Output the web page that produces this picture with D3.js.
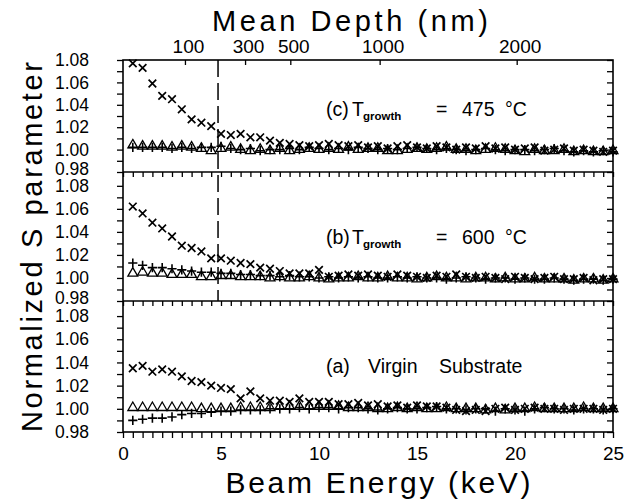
<!DOCTYPE html>
<html>
<head>
<meta charset="utf-8">
<script src="https://cdn.jsdelivr.net/npm/d3@7"></script>
<style>
  body { margin: 0; background: #fff; }
  text { fill: #000; }
</style>
</head>
<body>
<div id="chart"></div>
<script>
// beam energies (keV)
const energy = [0.5, 1.0, 1.5, 2.0, 2.5, 3.0, 3.5, 4.0, 4.5, 5.0,
  5.5, 6.0, 6.5, 7.0, 7.5, 8.0, 8.5, 9.0, 9.5, 10.0,
  10.5, 11.0, 11.5, 12.0, 12.5, 13.0, 13.5, 14.0, 14.5, 15.0,
  15.5, 16.0, 16.5, 17.0, 17.5, 18.0, 18.5, 19.0, 19.5, 20.0,
  20.5, 21.0, 21.5, 22.0, 22.5, 23.0, 23.5, 24.0, 24.5, 25.0];

// (c) T growth = 475 C
const crossC = [1.077, 1.073, 1.059, 1.048, 1.045, 1.036, 1.027, 1.024, 1.021, 1.014,
  1.013, 1.014, 1.011, 1.011, 1.008, 1.006, 1.005, 1.004, 1.003, 1.004,
  1.005, 1.004, 1.003, 1.004, 1.002, 1.003, 1.001, 1.003, 1.004, 1.002,
  1.001, 1.003, 1.002, 1.000, 1.002, 1.001, 1.003, 1.001, 1.002, 1.000,
  1.001, 1.002, 0.999, 1.000, 1.001, 0.999, 1.000, 0.999, 0.998, 0.999];
const plusC = [1.002, 1.002, 1.002, 1.002, 1.001, 1.002, 1.001, 1.002, 1.002, 1.003,
  1.001, 1.000, 1.001, 0.999, 1.000, 1.000, 1.001, 1.000, 1.002, 1.001,
  1.000, 1.001, 1.000, 1.002, 1.001, 1.000, 1.001, 1.000, 1.001, 1.002,
  1.001, 1.000, 1.001, 1.000, 0.999, 1.000, 1.001, 1.000, 0.999, 1.000,
  1.000, 0.999, 1.000, 1.001, 0.999, 0.998, 0.999, 0.998, 0.999, 0.998];
const triC = [1.004, 1.003, 1.003, 1.003, 1.002, 1.003, 1.002, 1.001, 0.999, 1.001,
  1.002, 1.000, 0.999, 1.000, 0.999, 1.001, 0.999, 1.000, 1.001, 1.000,
  1.001, 1.000, 1.002, 1.000, 1.001, 1.001, 0.999, 0.999, 1.000, 1.001,
  1.000, 1.001, 1.002, 1.000, 1.000, 0.999, 1.000, 1.001, 1.000, 0.999,
  0.998, 1.000, 0.999, 0.999, 1.000, 0.998, 0.999, 0.998, 0.998, 0.999];

// (b) T growth = 600 C
const crossB = [1.062, 1.056, 1.048, 1.043, 1.036, 1.028, 1.026, 1.023, 1.017, 1.017,
  1.015, 1.013, 1.012, 1.009, 1.008, 1.006, 1.004, 1.004, 1.004, 1.007,
  1.001, 1.002, 1.003, 1.002, 1.003, 1.002, 1.001, 1.003, 1.002, 1.001,
  1.000, 1.002, 1.001, 1.003, 1.001, 1.000, 1.001, 1.000, 0.999, 1.001,
  1.000, 0.999, 1.000, 1.001, 0.999, 0.999, 1.000, 0.998, 0.999, 0.999];
const plusB = [1.013, 1.011, 1.009, 1.009, 1.008, 1.007, 1.006, 1.005, 1.005, 1.004,
  1.004, 1.003, 1.003, 1.002, 1.002, 1.001, 1.002, 1.001, 1.001, 1.000,
  1.001, 1.000, 1.001, 1.000, 1.001, 1.000, 1.000, 1.001, 1.000, 1.001,
  1.000, 1.000, 0.999, 1.000, 1.001, 1.000, 0.999, 1.000, 1.000, 0.999,
  1.000, 0.999, 0.999, 1.000, 0.999, 0.998, 0.999, 0.999, 0.998, 0.999];
const triB = [1.004, 1.005, 1.004, 1.004, 1.003, 1.003, 1.003, 1.001, 1.001, 1.002,
  1.002, 1.001, 1.001, 1.001, 1.000, 1.001, 1.000, 1.000, 1.001, 1.000,
  0.999, 1.000, 1.000, 1.001, 1.000, 1.000, 1.001, 1.000, 1.000, 0.999,
  1.000, 1.001, 1.000, 1.000, 0.999, 1.000, 1.000, 0.999, 1.000, 0.999,
  0.999, 1.000, 0.999, 0.999, 0.999, 0.998, 0.999, 0.999, 0.998, 0.999];

// (a) virgin substrate
const crossA = [1.035, 1.037, 1.032, 1.034, 1.032, 1.028, 1.024, 1.023, 1.020, 1.018,
  1.017, 1.009, 1.015, 1.009, 1.007, 1.007, 1.006, 1.009, 1.006, 1.006,
  1.006, 1.004, 1.004, 1.005, 1.003, 1.004, 1.002, 1.003, 1.001, 1.003,
  1.002, 1.002, 1.001, 0.999, 0.998, 0.999, 0.998, 1.000, 1.001, 0.999,
  1.000, 1.001, 1.000, 1.000, 0.999, 1.000, 1.000, 1.000, 0.999, 1.000];
const plusA = [0.990, 0.991, 0.992, 0.992, 0.993, 0.995, 0.996, 0.996, 0.997, 0.998,
  0.998, 0.999, 0.999, 0.999, 1.000, 1.000, 1.000, 1.001, 1.000, 1.001,
  1.001, 1.000, 1.001, 1.001, 1.000, 0.999, 1.000, 1.001, 1.000, 1.000,
  1.001, 1.002, 1.000, 1.000, 0.999, 1.000, 1.000, 0.998, 1.000, 0.999,
  0.998, 1.000, 1.001, 1.000, 1.000, 0.999, 1.000, 1.000, 0.999, 1.000];
const triA = [1.001, 1.001, 1.001, 1.001, 1.001, 1.001, 1.001, 1.000, 1.000, 1.000,
  1.000, 1.001, 1.001, 1.001, 1.001, 1.002, 1.002, 1.002, 1.002, 1.002,
  1.002, 1.002, 1.001, 1.001, 1.001, 1.000, 1.000, 1.001, 1.000, 1.001,
  1.000, 1.000, 1.001, 1.000, 1.000, 1.000, 0.999, 1.000, 0.999, 1.000,
  1.000, 1.001, 1.000, 1.000, 1.000, 1.000, 1.001, 1.000, 1.000, 1.000];

// tick labels
const energyTicks = [0, 5, 10, 15, 20, 25];
const depthTicks = [100, 300, 500, 1000, 2000];
const sTicks = [0.98, 0.99, 1.00, 1.01, 1.02, 1.03, 1.04, 1.05, 1.06, 1.07, 1.08];
const layerDepth = 200; // nm, dashed line

const font = "'Liberation Sans', Arial, sans-serif";
const width = 632, height = 504;
const left = 123, right = 613, plotTop = 60, plotBottom = 432;

const svg = d3.select("#chart")
  .append("svg")
    .attr("width", width)
    .attr("height", height);

const x = d3.scaleLinear().domain([0, 25]).range([left, right]);

// mean depth (nm) -> beam energy (keV)
const depthToEnergy = z => Math.pow(z / 15.5, 1 / 1.62);

const panels = [
  { top: 60,  bottom: 172, yMax: 1.08,  cross: crossC, plus: plusC, tri: triC, ticksOnTop: false },
  { top: 172, bottom: 301, yMax: 1.092, cross: crossB, plus: plusB, tri: triB, ticksOnTop: true },
  { top: 301, bottom: 432, yMax: 1.093, cross: crossA, plus: plusA, tri: triA, ticksOnTop: true }
];

const minorEnergy = d3.range(0, 25.001, 0.5);

const crossPath = "M-3.8,-3.8L3.8,3.8M-3.8,3.8L3.8,-3.8";
const plusPath = "M-4.6,0H4.6M0,-4.6V4.6";
const triPath = d3.symbol(d3.symbolTriangle, 42)();

function styleAxis(g) {
  g.attr("font-family", font).attr("font-size", 19);
  g.select(".domain").remove();
  g.selectAll(".tick line").attr("stroke-width", 1.3);
}

panels.forEach((p, pi) => {
  const y = d3.scaleLinear().domain([0.98, p.yMax]).range([p.bottom, p.top]);

  const yAxis = svg.append("g")
      .attr("transform", `translate(${left},0)`)
      .call(d3.axisLeft(y)
        .tickValues(sTicks)
        .tickSize(6)
        .tickPadding(28)
        .tickFormat(d => Math.round(d * 100) % 2 === 0 ? d3.format(".2f")(d) : ""))
      .call(styleAxis)
      .attr("font-size", 17.5);

  // the 0.98 label sits right on the next panel's 1.08, lift it a little
  if (pi < 2) {
    yAxis.selectAll(".tick text")
      .filter(d => d === 0.98)
      .attr("dy", "0.12em");
  }

  svg.append("g")
      .attr("transform", `translate(${right},0)`)
      .call(d3.axisRight(y).tickValues(sTicks).tickSize(-6).tickFormat(""))
      .call(styleAxis);

  if (p.ticksOnTop) {
    svg.append("g")
        .attr("transform", `translate(0,${p.top})`)
        .call(d3.axisTop(x).tickValues(minorEnergy).tickSize(-5).tickFormat(""))
        .call(styleAxis);
  }

  const marks = svg.append("g");

  marks.selectAll(".tri")
    .data(p.tri)
    .enter().append("path")
      .attr("class", "tri")
      .attr("d", triPath)
      .attr("transform", (d, i) => `translate(${x(energy[i])},${y(d)})`)
      .attr("fill", "none")
      .attr("stroke", "#000")
      .attr("stroke-width", 1.3);

  marks.selectAll(".plus")
    .data(p.plus)
    .enter().append("path")
      .attr("class", "plus")
      .attr("d", plusPath)
      .attr("transform", (d, i) => `translate(${x(energy[i])},${y(d)})`)
      .attr("fill", "none")
      .attr("stroke", "#000")
      .attr("stroke-width", 1.6);

  marks.selectAll(".cross")
    .data(p.cross)
    .enter().append("path")
      .attr("class", "cross")
      .attr("d", crossPath)
      .attr("transform", (d, i) => `translate(${x(energy[i])},${y(d)})`)
      .attr("fill", "none")
      .attr("stroke", "#000")
      .attr("stroke-width", 1.7);
});

// top axis: mean depth
svg.append("g")
    .attr("transform", `translate(0,${plotTop})`)
    .call(d3.axisTop(x)
      .tickValues(depthTicks.map(depthToEnergy))
      .tickSize(-5)
      .tickPadding(7)
      .tickFormat((d, i) => depthTicks[i]))
    .call(styleAxis)
    .selectAll("text").attr("dx", 3);

// bottom axis: beam energy
svg.append("g")
    .attr("transform", `translate(0,${plotBottom})`)
    .call(d3.axisBottom(x)
      .tickValues(minorEnergy)
      .tickSize(6)
      .tickPadding(9)
      .tickFormat(d => energyTicks.includes(d) ? d : ""))
    .call(styleAxis);

// frame and panel dividers
svg.append("rect")
    .attr("x", left).attr("y", plotTop)
    .attr("width", right - left).attr("height", plotBottom - plotTop)
    .attr("fill", "none").attr("stroke", "#000").attr("stroke-width", 1.6);

svg.selectAll(".divider")
  .data(panels.slice(1))
  .enter().append("line")
    .attr("x1", left).attr("x2", right)
    .attr("y1", d => d.top).attr("y2", d => d.top)
    .attr("stroke", "#000").attr("stroke-width", 1.6);

// dashed line at the layer depth
svg.append("line")
    .attr("x1", x(depthToEnergy(layerDepth))).attr("x2", x(depthToEnergy(layerDepth)))
    .attr("y1", plotTop).attr("y2", panels[1].bottom)
    .attr("stroke", "#000").attr("stroke-width", 1.5)
    .attr("stroke-dasharray", "17,6");

// panel labels
function growthLabel(baseline, temp, letter) {
  const t = svg.append("text")
      .attr("y", baseline)
      .attr("font-family", font)
      .attr("font-size", 19.5);
  t.append("tspan").attr("x", 326).text(`(${letter})`);
  t.append("tspan").attr("x", 352).text("T");
  t.append("tspan").attr("x", 363).attr("dy", 4)
      .attr("font-size", 11.5).attr("font-weight", "bold").text("growth");
  t.append("tspan").attr("x", 436).attr("dy", -4).text("=");
  t.append("tspan").attr("x", 462).text(temp);
  t.append("tspan").attr("x", 505).text("°C");
}
growthLabel(116, "475", "c");
growthLabel(244, "600", "b");

const aLabel = svg.append("text")
    .attr("y", 373)
    .attr("font-family", font)
    .attr("font-size", 19.5);
aLabel.append("tspan").attr("x", 326).text("(a)");
aLabel.append("tspan").attr("x", 368).text("Virgin");
aLabel.append("tspan").attr("x", 439).text("Substrate");

// axis titles
svg.append("text")
    .attr("x", 350).attr("y", 31)
    .attr("text-anchor", "middle")
    .attr("font-family", font).attr("font-size", 29)
    .attr("textLength", 276).attr("lengthAdjust", "spacing")
    .text("Mean Depth (nm)");

svg.append("text")
    .attr("x", 378).attr("y", 493)
    .attr("text-anchor", "middle")
    .attr("font-family", font).attr("font-size", 30)
    .attr("textLength", 305).attr("lengthAdjust", "spacing")
    .text("Beam Energy (keV)");

svg.append("text")
    .attr("transform", "rotate(-90)")
    .attr("x", -247).attr("y", 42)
    .attr("text-anchor", "middle")
    .attr("font-family", font).attr("font-size", 29)
    .attr("textLength", 370).attr("lengthAdjust", "spacing")
    .text("Normalized S parameter");
</script>
</body>
</html>
